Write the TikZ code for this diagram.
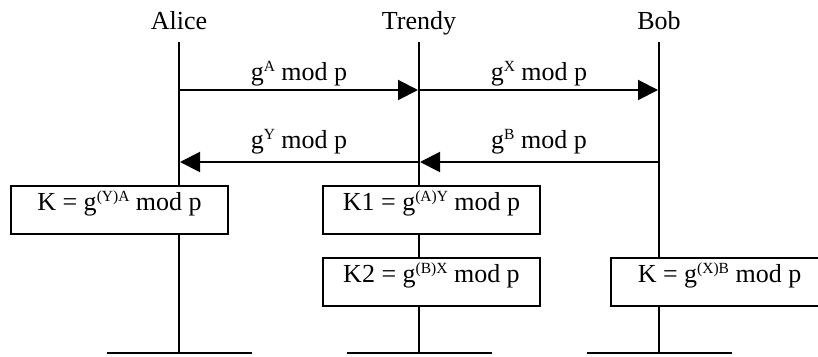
\documentclass[tikz,border=0pt]{standalone}
\usepackage{fontspec}
\setmainfont{Liberation Serif}
\usetikzlibrary{arrows.meta, positioning}
\newcommand\pw[1]{\raisebox{8.5pt}{\fontsize{15.5}{15.5}\selectfont #1}}

\begin{document}
\begin{tikzpicture}[x=1pt, y=-1pt, line width=2pt, >={Triangle[length=20pt,width=20pt]},
  font=\fontsize{26}{30}\selectfont,
  msg/.style={anchor=base, inner sep=0pt},
  keybox/.style={draw, fill=white, minimum width=217pt, minimum height=48pt,
    text height=17pt, text depth=17pt, inner sep=0pt}]
  \useasboundingbox (0,0) rectangle (818,356);

  % Create nodes
  \node[msg] (A) at (179,29) {Alice};
  \node[msg] (T) at (419,29) {Trendy};
  \node[msg] (B) at (659,29) {Bob};

  % lifelines
  \foreach \n/\x in {A/179, T/419, B/659} {
    \coordinate (\n top) at (\x,42);
    \coordinate (\n bot) at (\x,353);
    \coordinate (\n l) at (\x-72.5,353);
    \coordinate (\n r) at (\x+72.5,353);
    \draw (\n top) -- (\n bot);
    \draw (\n l) -- (\n r);
  }

  % messages
  \coordinate (A1) at (179,90);
  \coordinate (T1) at (418,90);
  \coordinate (T1s) at (419,90);
  \coordinate (B1) at (658,90);
  \coordinate (A2) at (180,162);
  \coordinate (T2) at (420,162);
  \coordinate (T2s) at (419,162);
  \coordinate (B2) at (659,162);
  \draw[->] (A1) -- (T1);
  \draw[->] (T1s) -- (B1);
  \draw[->] (T2s) -- (A2);
  \draw[->] (B2) -- (T2);
  \node[msg] (mA) at (299,80) {g\pw{A} mod p};
  \node[msg] (mX) at (539,80) {g\pw{X} mod p};
  \node[msg] (mY) at (299,148) {g\pw{Y} mod p};
  \node[msg] (mB) at (539,148) {g\pw{B} mod p};

  % keys
  \node[keybox] (KA) at (119.5,210) {K = g\pw{(Y)A} mod p};
  \node[keybox] (K1) at (431.5,210) {K1 = g\pw{(A)Y} mod p};
  \node[keybox] (K2) at (431.5,282) {K2 = g\pw{(B)X} mod p};
  \node[keybox] (KB) at (719.5,282) {K = g\pw{(X)B} mod p};
\end{tikzpicture}
\end{document}
